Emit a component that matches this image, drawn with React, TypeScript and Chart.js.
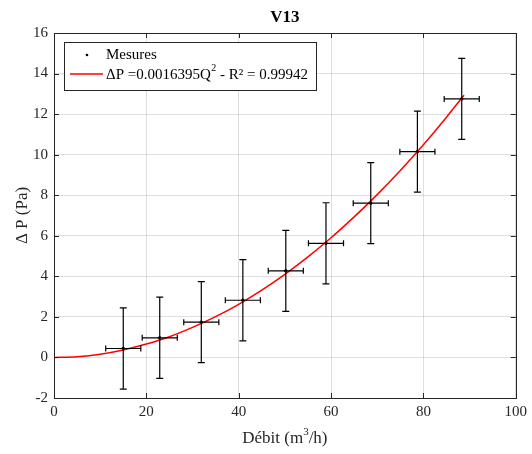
import React, { useEffect, useRef } from "react";
import { Chart, registerables } from "chart.js";

Chart.register(...registerables);

const measureX = [15.0, 22.9, 31.9, 40.9, 50.2, 58.9, 68.6, 78.7, 88.3];
const measureY = [0.44, 0.97, 1.74, 2.82, 4.27, 5.63, 7.61, 10.15, 12.75];
const errX = [3.8, 3.8, 3.8, 3.8, 3.8, 3.8, 3.8, 3.8, 3.8];
const errY = [2, 2, 2, 2, 2, 2, 2, 2, 2];

const fitX = [0, 5, 10, 15, 20, 25, 30, 35, 40, 45, 50, 55, 60, 65, 70, 75, 80, 85, 88.8];
const fitY = [0, 0.04, 0.16, 0.37, 0.66, 1.02, 1.48, 2.01, 2.62, 3.32, 4.1, 4.96, 5.9, 6.93, 8.03, 9.22, 10.49, 11.85, 12.93];

const xTicks = [0, 20, 40, 60, 80, 100];
const yTicks = [-2, 0, 2, 4, 6, 8, 10, 12, 14, 16];

const titleText = "V13";
const xTitleA = "Débit (m";
const xTitleSup = "3";
const xTitleB = "/h)";
const yTitle = "Δ P (Pa)";
const legendMeasures = "Mesures";
const legendFitA = "ΔP =0.0016395Q";
const legendFitSup = "2";
const legendFitB = " - R² = 0.99942";

const FONT = "'Liberation Serif', 'Times New Roman', serif";
const AXIS_COLOR = "#262626";

const decorPlugin = {
  id: "decor",
  afterDatasetsDraw(chart: any) {
    const ctx = chart.ctx as CanvasRenderingContext2D;
    const xs = chart.scales.x;
    const ys = chart.scales.y;
    ctx.save();
    ctx.strokeStyle = "#000";
    ctx.lineWidth = 1.2;
    for (let i = 0; i < measureX.length; i++) {
      const px = xs.getPixelForValue(measureX[i]);
      const py = ys.getPixelForValue(measureY[i]);
      const y1 = ys.getPixelForValue(measureY[i] - errY[i]);
      const y2 = ys.getPixelForValue(measureY[i] + errY[i]);
      const x1 = xs.getPixelForValue(measureX[i] - errX[i]);
      const x2 = xs.getPixelForValue(measureX[i] + errX[i]);
      ctx.beginPath();
      ctx.moveTo(px, y1);
      ctx.lineTo(px, y2);
      ctx.moveTo(px - 3.5, y1);
      ctx.lineTo(px + 3.5, y1);
      ctx.moveTo(px - 3.5, y2);
      ctx.lineTo(px + 3.5, y2);
      ctx.moveTo(x1, py);
      ctx.lineTo(x2, py);
      ctx.moveTo(x1, py - 3);
      ctx.lineTo(x1, py + 3);
      ctx.moveTo(x2, py - 3);
      ctx.lineTo(x2, py + 3);
      ctx.stroke();
    }
    ctx.restore();
  },
  afterDraw(chart: any) {
    const ctx = chart.ctx as CanvasRenderingContext2D;
    const xs = chart.scales.x;
    const ys = chart.scales.y;
    const a = chart.chartArea;
    ctx.save();
    ctx.strokeStyle = AXIS_COLOR;
    ctx.lineWidth = 1;
    ctx.strokeRect(Math.round(a.left) + 0.5, Math.round(a.top) + 0.5, Math.round(a.right - a.left), Math.round(a.bottom - a.top));
    ctx.beginPath();
    const tl = 5;
    for (const v of xTicks) {
      const px = Math.round(xs.getPixelForValue(v)) + 0.5;
      ctx.moveTo(px, a.bottom);
      ctx.lineTo(px, a.bottom - tl);
      ctx.moveTo(px, a.top);
      ctx.lineTo(px, a.top + tl);
    }
    for (const v of yTicks) {
      const py = Math.round(ys.getPixelForValue(v)) + 0.5;
      ctx.moveTo(a.left, py);
      ctx.lineTo(a.left + tl, py);
      ctx.moveTo(a.right, py);
      ctx.lineTo(a.right - tl, py);
    }
    ctx.stroke();

    const cx = (a.left + a.right) / 2;
    ctx.fillStyle = "#000";
    ctx.textAlign = "center";
    ctx.textBaseline = "middle";
    ctx.font = `bold 17px ${FONT}`;
    ctx.fillText(titleText, cx, 18);

    // x title with superscript
    ctx.fillStyle = AXIS_COLOR;
    ctx.textAlign = "left";
    ctx.font = `17px ${FONT}`;
    const wA = ctx.measureText(xTitleA).width;
    const wB = ctx.measureText(xTitleB).width;
    ctx.font = `11px ${FONT}`;
    const wS = ctx.measureText(xTitleSup).width;
    const total = wA + wS + wB;
    let tx = cx - total / 2;
    const ty = 439;
    ctx.font = `17px ${FONT}`;
    ctx.fillText(xTitleA, tx, ty);
    tx += wA;
    ctx.font = `11px ${FONT}`;
    ctx.fillText(xTitleSup, tx, ty - 7);
    tx += wS;
    ctx.font = `17px ${FONT}`;
    ctx.fillText(xTitleB, tx, ty);

    // y title
    ctx.textAlign = "center";
    ctx.save();
    ctx.translate(23, (a.top + a.bottom) / 2);
    ctx.rotate(-Math.PI / 2);
    ctx.font = `17px ${FONT}`;
    ctx.fillText(yTitle, 0, 0);
    ctx.restore();

    // legend
    const lx = 64, ly = 42, lw = 252, lh = 48;
    ctx.fillStyle = "#fff";
    ctx.fillRect(lx, ly, lw, lh);
    ctx.strokeStyle = AXIS_COLOR;
    ctx.lineWidth = 1;
    ctx.strokeRect(lx + 0.5, ly + 0.5, lw, lh);
    ctx.fillStyle = "#000";
    ctx.beginPath();
    ctx.arc(87, 55, 1.3, 0, Math.PI * 2);
    ctx.fill();
    ctx.strokeStyle = "#ff0000";
    ctx.lineWidth = 1.5;
    ctx.beginPath();
    ctx.moveTo(70, 74);
    ctx.lineTo(103, 74);
    ctx.stroke();
    ctx.fillStyle = "#000";
    ctx.textAlign = "left";
    ctx.textBaseline = "middle";
    ctx.font = `15px ${FONT}`;
    ctx.fillText(legendMeasures, 106, 55);
    let lxx = 106;
    ctx.fillText(legendFitA, lxx, 75);
    lxx += ctx.measureText(legendFitA).width;
    ctx.font = `10px ${FONT}`;
    ctx.fillText(legendFitSup, lxx + 0.5, 68);
    lxx += ctx.measureText(legendFitSup).width + 0.5;
    ctx.font = `15px ${FONT}`;
    ctx.fillText(legendFitB, lxx, 75);
    ctx.restore();
  },
};

export default function App() {
  const ref = useRef<HTMLCanvasElement>(null);
  useEffect(() => {
    document.body.style.margin = "0";
    const chart = new Chart(ref.current as HTMLCanvasElement, {
      type: "scatter",
      data: {
        datasets: [
          {
            type: "line",
            label: "fit",
            data: fitX.map((x, i) => ({ x, y: fitY[i] })),
            borderColor: "#ff0000",
            borderWidth: 1.5,
            pointRadius: 0,
            cubicInterpolationMode: "monotone",
            fill: false,
          } as any,
          {
            label: "Mesures",
            data: measureX.map((x, i) => ({ x, y: measureY[i] })),
            backgroundColor: "#000",
            borderColor: "#000",
            pointRadius: 1.3,
          },
        ],
      },
      options: {
        animation: false,
        responsive: false,
        layout: { padding: { top: 33, right: 15, left: 0, bottom: 0 } },
        plugins: { legend: { display: false }, tooltip: { enabled: false }, title: { display: false } },
        scales: {
          x: {
            type: "linear",
            min: 0,
            max: 100,
            afterFit: (s: any) => {
              s.height = 56;
            },
            afterBuildTicks: (s: any) => {
              s.ticks = xTicks.map((v) => ({ value: v }));
            },
            grid: { color: "rgba(38,38,38,0.15)", drawTicks: false },
            border: { display: false },
            ticks: { padding: 5, color: AXIS_COLOR, font: { family: FONT, size: 15 }, maxRotation: 0 },
          },
          y: {
            type: "linear",
            min: -2,
            max: 16,
            afterFit: (s: any) => {
              s.width = 54;
            },
            afterBuildTicks: (s: any) => {
              s.ticks = yTicks.map((v) => ({ value: v }));
            },
            grid: { color: "rgba(38,38,38,0.15)", drawTicks: false },
            border: { display: false },
            ticks: { padding: 6, color: AXIS_COLOR, font: { family: FONT, size: 15 } },
          },
        },
      },
      plugins: [decorPlugin],
    });
    return () => chart.destroy();
  }, []);
  return (
    <div style={{ position: "fixed", left: 0, top: 0, width: 532, height: 454 }}>
      <canvas ref={ref} width={532} height={454} style={{ width: 532, height: 454 }} />
    </div>
  );
}
